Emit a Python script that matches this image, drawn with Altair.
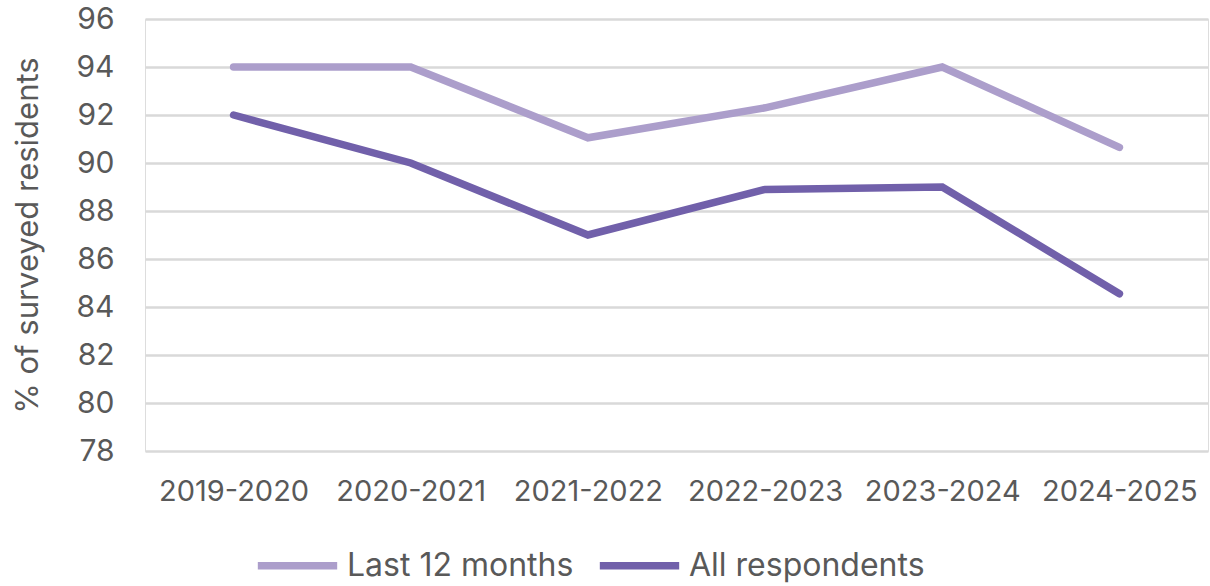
import altair as alt
import pandas as pd

years = ["2019-2020", "2020-2021", "2021-2022", "2022-2023", "2023-2024", "2024-2025"]
last_12_months = [94.0, 94.0, 91.05, 92.3, 94.0, 90.65]
all_respondents = [92.0, 90.0, 87.0, 88.9, 89.0, 84.55]
series_names = ["Last 12 months", "All respondents"]
series_colors = ["#ac9ecb", "#7160aa"]
y_ticks = [78, 80, 82, 84, 86, 88, 90, 92, 94, 96]

rows = []
for i, y in enumerate(years):
    rows.append({"year": y, "series": series_names[0], "value": last_12_months[i]})
    rows.append({"year": y, "series": series_names[1], "value": all_respondents[i]})
df = pd.DataFrame(rows)

FONT = "Inter"
TXT = "#595959"

chart = alt.Chart(df).mark_line(strokeWidth=7.5, strokeCap="round", strokeJoin="miter").encode(
    x=alt.X("year:N", sort=years,
            scale=alt.Scale(type="point", padding=0.5),
            axis=alt.Axis(title=None, labelAngle=0, labelFontSize=29, labelColor=TXT,
                          labelFont=FONT, labelPadding=26, domain=False, ticks=False, grid=False)),
    y=alt.Y("value:Q", scale=alt.Scale(domain=[78, 96], nice=False, zero=False),
            axis=alt.Axis(title="% of surveyed residents", values=y_ticks, labelFontSize=30,
                          labelColor=TXT, labelFont=FONT, labelPadding=31, domain=False,
                          ticks=False, gridColor="#d9d9d9", gridWidth=2.5,
                          titleFontSize=31, titleFont=FONT, titleColor=TXT, titleFontWeight="normal",
                          titleX=-117, titleY=216, titleAngle=270, titleAlign="center",
                          titleBaseline="middle")),
    color=alt.Color("series:N", scale=alt.Scale(domain=series_names, range=series_colors),
                    legend=alt.Legend(title=None, orient="none", direction="horizontal",
                                      legendX=109, legendY=503, symbolType="stroke",
                                      symbolSize=6300, symbolStrokeWidth=7.5,
                                      labelFontSize=32, labelFont=FONT, labelColor=TXT,
                                      labelLimit=500, labelOffset=6, columnPadding=10,
                                      symbolOffset=0)),
    order=alt.Order("series:N")
).properties(
    width=1063, height=432,
    padding={"left": 145, "top": 19, "right": 2, "bottom": 135},
    autosize=alt.AutoSizeParams(type="none")
).configure_view(stroke=None).configure(background="white")

chart.save("out.html", embed_options={"renderer": "svg", "actions": False})
